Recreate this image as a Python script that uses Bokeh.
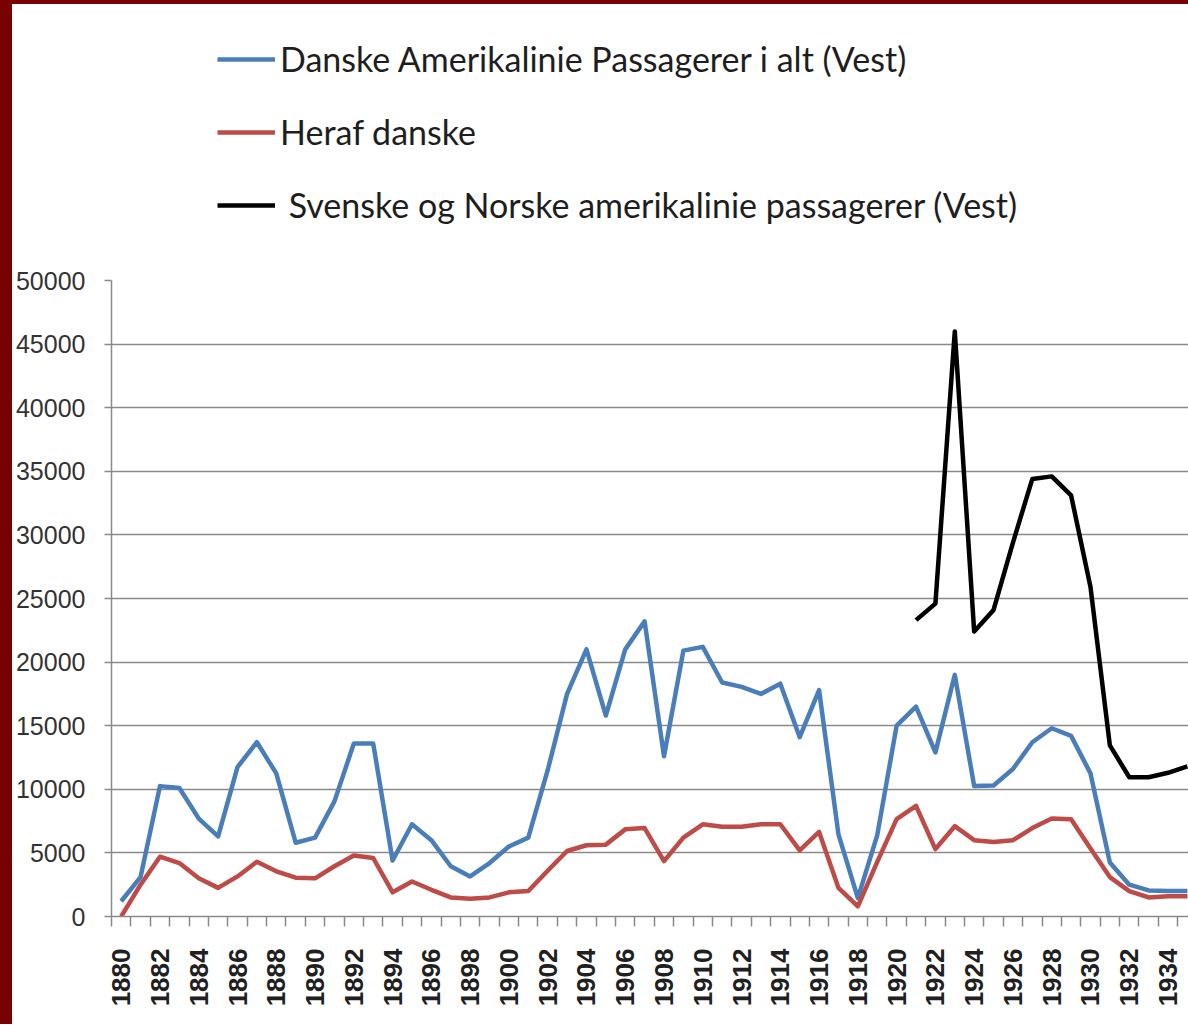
from bokeh.plotting import figure
from bokeh.models import (Legend, LegendItem, FixedTicker, Range1d, Div,
                          NumeralTickFormatter)
from bokeh.layouts import row, column
from bokeh.embed import file_html
from bokeh.resources import INLINE

# ---------------- data ----------------
years = list(range(1880, 1936))
danske_total = [1200, 3100, 10250, 10100, 7700, 6300, 11750, 13700, 11250, 5800,
                6200, 9050, 13600, 13600, 4400, 7250, 6000, 3950, 3150, 4200,
                5500, 6200, 11500, 17500, 21000, 15800, 21000, 23200, 12600, 20900,
                21200, 18400, 18050, 17500, 18300, 14100, 17800, 6450, 1450, 6400,
                15000, 16500, 12900, 19000, 10250, 10300, 11600, 13700, 14800, 14200,
                11250, 4250, 2500, 2050, 2000, 2000]
heraf_danske = [0, 2500, 4700, 4200, 3000, 2250, 3150, 4300, 3550, 3050,
                3000, 3950, 4800, 4600, 1900, 2750, 2100, 1500, 1400, 1500,
                1900, 2000, 3600, 5150, 5600, 5650, 6850, 6950, 4350, 6200,
                7250, 7050, 7050, 7250, 7250, 5200, 6650, 2250, 800, 4300,
                7650, 8700, 5300, 7100, 6000, 5850, 6000, 6950, 7700, 7650,
                5350, 3100, 2000, 1500, 1600, 1600]
sv_no_years = list(range(1921, 1936))
sv_no = [23300, 24600, 46000, 22400, 24100, 29400, 34400, 34600, 33100, 25900,
         13450, 10950, 10950, 11300, 11800]

x_tick_years = list(range(1880, 1935, 2))
y_ticks = list(range(0, 50001, 5000))

series_labels = ["Danske Amerikalinie Passagerer i alt (Vest)",
                 "Heraf danske",
                 "\u00a0Svenske og Norske amerikalinie passagerer (Vest)"]
series_colors = ["#4a7ebb", "#be4b48", "#000000"]

# ---------------- layout geometry ----------------
STRIP_L, STRIP_T = 12, 4
TOTAL_W, TOTAL_H = 1188, 1024
W = TOTAL_W - STRIP_L
LEG_H = 250
H = TOTAL_H - STRIP_T - LEG_H
frame_left = 108 - STRIP_L
frame_top = 280 - STRIP_T - LEG_H
frame_h = 636
frame_bottom_border = H - frame_top - frame_h
px_per_year = 19.44
frame_w = W - frame_left
x_end = 1879.5 + frame_w / px_per_year

p = figure(width=W, height=H, x_range=Range1d(1879.5, x_end), y_range=Range1d(0, 50000),
           output_backend="svg", toolbar_location=None,
           min_border_left=frame_left, min_border_right=0,
           min_border_top=frame_top, min_border_bottom=frame_bottom_border)
p.outline_line_color = None
p.background_fill_color = "white"
p.border_fill_color = "white"

grid_col = "#8a8a8a"
p.xgrid.visible = False
p.ygrid.grid_line_color = grid_col
p.ygrid.grid_line_width = 1.5

# y axis
p.yaxis.ticker = FixedTicker(ticks=y_ticks)
p.yaxis.formatter = NumeralTickFormatter(format="0")
p.yaxis.axis_line_color = grid_col
p.yaxis.axis_line_width = 1.5
p.yaxis.major_tick_line_color = grid_col
p.yaxis.major_tick_line_width = 1.5
p.yaxis.major_tick_out = 7
p.yaxis.major_tick_in = 0
p.yaxis.minor_tick_line_color = None
p.yaxis.major_label_standoff = 19
p.yaxis.major_label_text_font = "Liberation Sans"
p.yaxis.major_label_text_font_size = "25px"
p.yaxis.major_label_text_color = "#333333"

# x axis
p.xaxis.ticker = FixedTicker(ticks=x_tick_years,
                             minor_ticks=[y - 0.5 for y in years] + [years[-1] + 0.5])
p.xaxis.axis_line_color = grid_col
p.xaxis.axis_line_width = 1.5
p.xaxis.major_tick_out = 0
p.xaxis.major_tick_in = 0
p.xaxis.minor_tick_line_color = grid_col
p.xaxis.minor_tick_line_width = 1.5
p.xaxis.minor_tick_out = 10
p.xaxis.minor_tick_in = 0
p.xaxis.major_label_orientation = 3.14159265 / 2
p.xaxis.major_label_standoff = 22
p.xaxis.major_label_text_font = "Liberation Sans"
p.xaxis.major_label_text_font_style = "bold"
p.xaxis.major_label_text_font_size = "26px"
p.xaxis.major_label_text_color = "#202020"

# lines
r1 = p.line(years, danske_total, line_color=series_colors[0], line_width=4.5, line_join="round")
r2 = p.line(years, heraf_danske, line_color=series_colors[1], line_width=4.5, line_join="round")
r3 = p.line(sv_no_years, sv_no, line_color=series_colors[2], line_width=4.5, line_join="round")

# ---------------- legend panel (separate strip above the chart) ----------------
# the same series are drawn here, but the y range is chosen so that they stay
# out of view: only their legend swatches show
lf = figure(width=W, height=LEG_H, x_range=Range1d(1879.5, x_end),
            y_range=Range1d(-3, -2),
            output_backend="svg", toolbar_location=None,
            min_border_left=0, min_border_right=0, min_border_top=0, min_border_bottom=0)
lf.axis.visible = False
lf.grid.visible = False
lf.outline_line_color = None
sw1 = lf.line(years, danske_total, line_color=series_colors[0], line_width=4.5)
sw2 = lf.line(years, heraf_danske, line_color=series_colors[1], line_width=4.5)
sw3 = lf.line(sv_no_years, sv_no, line_color=series_colors[2], line_width=4.5)

LEG_X_FIX = 100  # measured horizontal offset of the legend frame
legend = Legend(items=[LegendItem(label=lab, renderers=[sw])
                       for lab, sw in zip(series_labels, [sw1, sw2, sw3])],
                location=(218 - STRIP_L - LEG_X_FIX, LEG_H - (41 - STRIP_T) - 184),
                orientation="vertical",
                glyph_width=58, glyph_height=40, label_height=40,
                label_standoff=5, spacing=32, padding=0, margin=0,
                background_fill_alpha=0, border_line_alpha=0,
                label_text_font="Lato", label_text_font_size="34px",
                label_text_color="#1e1e1e")
lf.add_layout(legend, "center")

# dark red slide border strips
top_strip = Div(width=TOTAL_W, height=STRIP_T, margin=0,
                styles={"background-color": "#780202"})
left_strip = Div(width=STRIP_L, height=TOTAL_H - STRIP_T, margin=0,
                 styles={"background-color": "#780202"})

layout = column(top_strip,
                row(left_strip, column(lf, p, spacing=0), spacing=0),
                spacing=0)

open("out.html", "w").write(file_html(layout, INLINE))
